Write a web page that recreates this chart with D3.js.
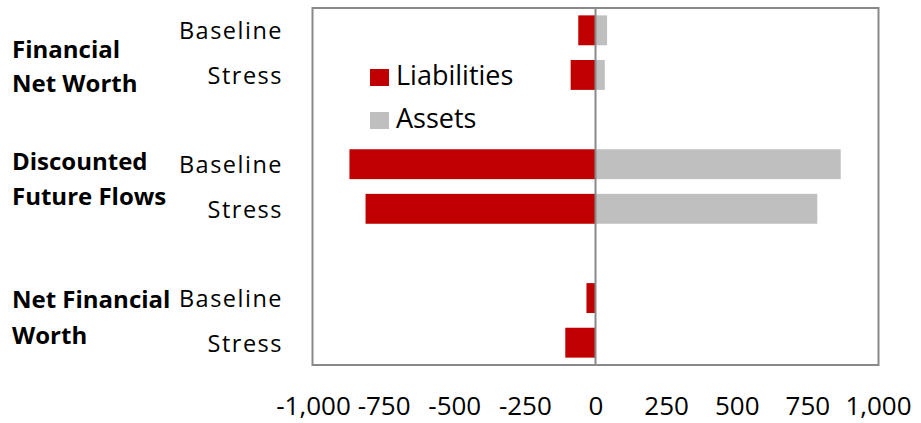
<!DOCTYPE html>
<html><head><meta charset="utf-8">
<script src="https://cdn.jsdelivr.net/npm/d3@7"></script>
<style>body{margin:0;background:#fff}svg{display:block}text{font-family:"Open Sans",sans-serif}</style>
</head><body><svg id="c" width="921" height="423"></svg>
<script>
const rows = ["FNW|Baseline","FNW|Stress","gap1","DFF|Baseline","DFF|Stress","gap2","NFW|Baseline","NFW|Stress"];
const rowLabels = ["Baseline","Stress","","Baseline","Stress","","Baseline","Stress"];
const groups = [["Financial","Net Worth"],["Discounted","Future Flows"],["Net Financial","Worth"]];
const liabilities = [-61,-88,null,-871,-814,null,-32,-107];
const assets = [41,33,null,868,785,null,0,0];
const ticks = [-1000,-750,-500,-250,0,250,500,750,1000];
const seriesNames = ["Liabilities","Assets"];
const colors = ["#C00000","#BFBFBF"];

const svg = d3.select("#c");
const L=313,R=878,T=8,B=365;
const x = d3.scaleLinear().domain([-1000,1000]).range([L,R]);
const y = d3.scaleBand().domain(rows).range([T,B]).paddingInner(0.33).paddingOuter(0.165);

const g = svg.append("g");
rows.forEach((r,i)=>{
  if(liabilities[i]!=null && liabilities[i]!==0){
    g.append("rect").attr("x",x(liabilities[i])).attr("width",x(0)-x(liabilities[i]))
     .attr("y",y(r)).attr("height",y.bandwidth()).attr("fill",colors[0]);
  }
  if(assets[i]!=null && assets[i]!==0){
    g.append("rect").attr("x",x(0)).attr("width",x(assets[i])-x(0))
     .attr("y",y(r)).attr("height",y.bandwidth()).attr("fill",colors[1]);
  }
});
// frame
svg.append("rect").attr("x",L-0.5).attr("y",T).attr("width",R-L+1).attr("height",B-T)
  .attr("fill","none").attr("stroke","#898989").attr("stroke-width",2);
// zero line
svg.append("line").attr("x1",x(0)).attr("x2",x(0)).attr("y1",T).attr("y2",B)
  .attr("stroke","#898989").attr("stroke-width",2);

// x tick labels
const fmt = d3.format(",");
const ax = svg.append("g").attr("transform",`translate(0,${B})`)
  .call(d3.axisBottom(x).tickValues(ticks).tickSize(0).tickPadding(0)
    .tickFormat(d=>fmt(d).replace("\u2212","-")));
ax.select(".domain").remove();
ax.selectAll("text").attr("dy",0).attr("y",50).attr("font-size",26).attr("fill","#000")
  .style("font-family","'Open Sans',sans-serif");

// row labels
rows.forEach((r,i)=>{
  if(!rowLabels[i]) return;
  svg.append("text").attr("x",283).attr("y",y(r)+y.bandwidth()/2+9)
    .attr("text-anchor","end").attr("font-size",23.5).attr("letter-spacing",1.5).text(rowLabels[i]);
});
// group labels
const groupBase = [[57.5,92],[170,205],[308,344]];
groups.forEach((lines,gi)=>{
  lines.forEach((t,li)=>{
    svg.append("text").attr("x",12).attr("y",groupBase[gi][li]).attr("font-size",24)
      .attr("font-weight","bold").text(t);
  });
});
// legend
seriesNames.forEach((s,i)=>{
  const ly = 69 + i*43;
  svg.append("rect").attr("x",370).attr("y",ly).attr("width",19).attr("height",17).attr("fill",colors[i]);
  svg.append("text").attr("x",396).attr("y",ly+15.5).attr("font-size",27).text(s);
});
</script></body></html>
